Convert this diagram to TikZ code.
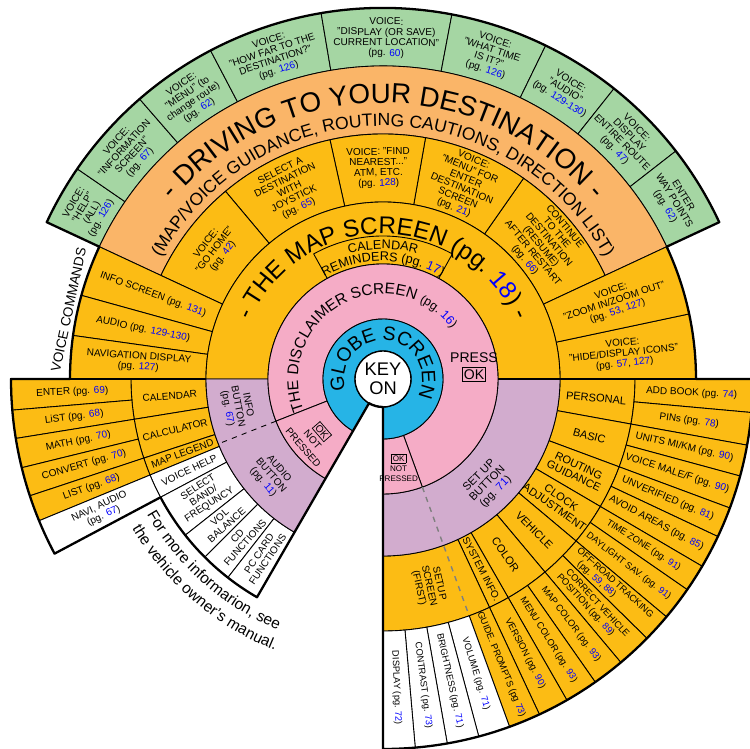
\documentclass[tikz,border=0pt]{standalone}
\usepackage{fontspec}
\setmainfont{Liberation Sans}
\usetikzlibrary{decorations.text}
\definecolor{vgreen}{RGB}{165,214,163}
\definecolor{dorange}{RGB}{250,181,104}
\definecolor{myellow}{RGB}{252,188,20}
\definecolor{dpink}{RGB}{245,172,198}
\definecolor{gblue}{RGB}{38,180,230}
\definecolor{bpurple}{RGB}{210,172,206}
\newcommand\pgn[1]{\textcolor{blue}{#1}}
\newcommand\okb{{\setlength\fboxsep{0.7pt}\fbox{OK}}}
\newcommand\segm[5]{\filldraw[fill=#1,draw=black,line width=.5pt] (#2:#4) arc[start angle=#2,end angle=#3,radius=#4] -- (#3:#5) arc[start angle=#3,end angle=#2,radius=#5] -- cycle;}
\tikzset{
  lab/.style={font=\fontsize{5.7}{5.9}\selectfont,align=center,inner sep=0pt},
  labs/.style={font=\fontsize{5.3}{5.6}\selectfont,align=center,inner sep=0pt},
  labm/.style={font=\fontsize{6.3}{6.6}\selectfont,align=center,inner sep=0pt},
  arctext/.style={decorate,decoration={text along path,text align=center,text={#1}}},
  rim/.style={line width=1.3pt}
}
\begin{document}
\begin{tikzpicture}[x=0.02cm,y=0.02cm,line join=round]
  \useasboundingbox (-383,-370) rectangle (367,379);
  \coordinate (O) at (0,0);
  \foreach \a/\b in {155/145.5,145.5/131,131/117.7,117.7/99.6,99.6/79.3,79.3/64,64/51.5,51.5/37.9,37.9/25}
    {\segm{vgreen}{\a}{\b}{313}{371}}
  \segm{dorange}{25}{155}{245}{313}
  \foreach \a/\b in {25/55,55/80,80/102.5,102.5/130,130/155}
    {\segm{myellow}{\a}{\b}{177}{245}}
  \foreach \a/\b in {155/164.5,164.5/172,172/180,0/12,12/25}
    {\segm{myellow}{\a}{\b}{177}{313}}
  \segm{myellow}{0}{180}{115}{177}
  \segm{myellow}{61}{119}{115}{143}
  \foreach \a/\b in {180/189.2,189.2/198.3,198.3/202.4}
    {\segm{myellow}{\a}{\b}{177}{252}}
  \foreach \a/\b in {202.4/208,208/218.3,218.3/225,225/232,232/240}
    {\segm{white}{\a}{\b}{177}{252}}
  \foreach \a/\b in {180/184.8,184.8/189.2,189.2/193.8,193.8/198.3,198.3/202.4}
    {\segm{myellow}{\a}{\b}{252}{372}}
  \segm{white}{202.4}{208}{252}{372}
  \foreach \a/\b in {0/-10.3,-10.3/-20.4,-20.4/-30.4,-30.4/-40,-40/-50,-50/-60.2,-60.2/-65,-65/-90}
    {\segm{myellow}{\a}{\b}{177}{252}}
  \foreach \a/\b in {0/-5.2,-5.2/-10.3,-10.3/-15.2,-15.2/-20.4,-20.4/-25.2,-25.2/-30.4,-30.4/-34.7,-34.7/-40,-40/-44.5,-44.5/-50,-50/-55,-55/-60.2,-60.2/-65,-65/-70}
    {\segm{myellow}{\a}{\b}{252}{370}}
  \foreach \a/\b in {-70/-75,-75/-80,-80/-85,-85/-90}
    {\segm{white}{\a}{\b}{252}{370}}
  \segm{bpurple}{180}{240}{115}{177}
  \segm{bpurple}{-90}{0}{115}{177}
  \segm{dpink}{-70}{201.5}{60}{115}
  \segm{dpink}{201.5}{240}{60}{115}
  \segm{dpink}{-90}{-70}{60}{115}
  \segm{gblue}{-90}{240}{28}{60}
  \filldraw[fill=white,line width=.8pt] (O) circle[radius=28];
  \draw[dashed,line width=.5pt] (201.5:115) -- (201.5:177);
  \draw[dashed,gray,line width=.8pt] (-70:115) -- (-70:252);
  \path[arctext={|\fontsize{11}{12}\selectfont|GLOBE SCREEN}] (235:39) arc[start angle=235,end angle=-65,radius=39];
  \path[arctext={|\fontsize{8.8}{10}\selectfont|THE DISCLAIMER SCREEN |\fontsize{7}{8}\selectfont|(pg. |\fontsize{7}{8}\selectfont\color{blue}|16|\fontsize{7}{8}\selectfont|)}] (228.75:85) arc[start angle=228.75,end angle=8.75,radius=85];
  \path[arctext={|\fontsize{13.8}{14}\selectfont|- THE MAP SCREEN (pg. |\fontsize{13.8}{14}\selectfont\color{blue}|18|\fontsize{13.8}{14}\selectfont|) -}] (195:145) arc[start angle=195,end angle=-15,radius=145];
  \path[arctext={|\fontsize{15.8}{17}\selectfont|- DRIVING TO YOUR DESTINATION -}] (180:276) arc[start angle=180,end angle=0,radius=276];
  \path[arctext={|\fontsize{10}{11}\selectfont|(MAP/VOICE GUIDANCE, ROUTING CAUTIONS, DIRECTION LIST)}] (180:253) arc[start angle=180,end angle=0,radius=253];
  \path[arctext={|\fontsize{7.2}{8}\selectfont|CALENDAR}] (150:130) arc[start angle=150,end angle=30,radius=130];
  \path[arctext={|\fontsize{7.2}{8}\selectfont|REMINDERS (pg. |\fontsize{7.2}{8}\selectfont\color{blue}|17|\fontsize{7.2}{8}\selectfont|)}] (150:118) arc[start angle=150,end angle=30,radius=118];
  \path[arctext={|\fontsize{8.8}{10}\selectfont|For more informarion, see}] (188.5:272) arc[start angle=188.5,end angle=268.5,radius=272];
  \path[arctext={|\fontsize{8.8}{10}\selectfont|the vehicle owner's manual.}] (189.5:292) arc[start angle=189.5,end angle=269.5,radius=292];
  \node[font=\fontsize{10.4}{10.5}\selectfont,align=center,inner sep=0pt] (key) at (O) {KEY\\ON};
  \node[font=\fontsize{8}{9.5}\selectfont,align=center,inner sep=0pt] (press) at (91,12) {PRESS\\\okb};
  \node[font=\fontsize{5.7}{7}\selectfont,align=center,inner sep=0pt,rotate=-49.25] (oknl) at (220.75:92) {\okb\\NOT\\PRESSED};
  \node[font=\fontsize{4.6}{5.6}\selectfont,align=center,inner sep=0pt] (oknr) at (-80:90) {\okb\\NOT\\PRESSED};
  \node[lab,rotate=60] (vhelp) at (150.25:340) {VOICE:\\"HELP"\\(ALL)\\(pg. \pgn{126})};
  \node[lab,rotate=48] (vinfo) at (138.25:341) {VOICE:\\"INFORMATION\\SCREEN"\\(pg. \pgn{67})};
  \node[lab,rotate=34.4] (vmenu) at (124.35:341) {VOICE:\\"MENU" (to\\change route)\\(pg. \pgn{62})};
  \node[lab,rotate=18.6] (vfar) at (108.65:341) {VOICE:\\"HOW FAR TO THE\\DESTINATION?"\\(pg. \pgn{126})};
  \node[lab,rotate=-0.5] (vdisp) at (89.45:341) {VOICE:\\"DISPLAY (OR SAVE)\\CURRENT LOCATION"\\(pg. \pgn{60})};
  \node[lab,rotate=-18.3] (vtime) at (71.65:341) {VOICE:\\"WHAT TIME\\IS IT?"\\(pg. \pgn{126})};
  \node[lab,rotate=-32.2] (vaudio) at (57.75:341) {VOICE:\\"AUDIO"\\(pg. \pgn{129-130})};
  \node[lab,rotate=-45.3] (vroute) at (44.7:341) {VOICE:\\DISPLAY\\ENTIRE ROUTE\\(pg. \pgn{47})};
  \node[lab,rotate=-58.5] (vway) at (31.45:341) {ENTER\\WAY POINTS\\(pg. \pgn{62})};
  \node[lab,rotate=52.5] (ghome) at (142.5:212) {VOICE:\\"GO HOME"\\(pg. \pgn{42})};
  \node[lab,rotate=26.25] (joy) at (116.25:211) {SELECT A\\DESTINATION\\WITH\\JOYSTICK\\(pg. \pgn{65})};
  \node[lab,rotate=1.25] (near) at (91.25:211) {VOICE: "FIND\\NEAREST..."\\ATM, ETC.\\(pg. \pgn{128})};
  \node[lab,rotate=-22.5] (mdest) at (67.5:211) {VOICE:\\"MENU" FOR\\ENTER\\DESTINATION\\SCREEN\\(pg. \pgn{21})};
  \node[lab,rotate=-50] (resume) at (40:211) {CONTINUE\\TO THE\\DESTINATION\\(RESUME)\\AFTER RESTART\\(pg. \pgn{66})};
  \node[lab,rotate=-20.2] (vscreen) at (159.8:245) {INFO SCREEN (pg. \pgn{131})};
  \node[lab,rotate=-11.7] (vaud) at (168.3:245) {AUDIO (pg. \pgn{129-130})};
  \node[lab,rotate=-4] (vnav) at (176:245) {NAVIGATION DISPLAY\\(pg. \pgn{127})};
  \node[lab,rotate=18.5] (vzoom) at (18.5:244) {VOICE:\\"ZOOM IN/ZOOM OUT"\\(pg. \pgn{53}, \pgn{127})};
  \node[lab,rotate=6] (vicons) at (6:242) {VOICE:\\"HIDE/DISPLAY ICONS"\\(pg. \pgn{57}, \pgn{127})};
  \node[font=\fontsize{7.7}{8}\selectfont,rotate=78,inner sep=0pt] (vcmd) at (167.6:322) {VOICE COMMANDS};
  \node[lab,rotate=-79.25] (infob) at (190.75:148) {INFO\\BUTTON\\(pg. \pgn{67})};
  \node[lab,rotate=-49.25] (audiob) at (220.75:148) {AUDIO\\BUTTON\\(pg. \pgn{11})};
  \node[labm,rotate=45] (setupb) at (-45:148) {SET UP\\BUTTON\\(pg. \pgn{71})};
  \node[lab,rotate=4.6] (cal) at (184.6:214) {CALENDAR};
  \node[lab,rotate=13.75] (calc) at (193.75:214) {CALCULATOR};
  \node[lab,rotate=20.35] (legend) at (200.35:214) {MAP LEGEND};
  \node[lab,rotate=25.2] (vohelp) at (205.2:214) {VOICE HELP};
  \node[lab,rotate=33.15] (band) at (213.15:214) {SELECT\\BAND/\\FREQUNCY};
  \node[lab,rotate=41.65] (vol) at (221.65:214) {VOL\\BALANCE};
  \node[lab,rotate=48.5] (cd) at (228.5:214) {CD\\FUNCTIONS};
  \node[lab,rotate=56] (pccard) at (236:214) {PC CARD\\FUNCTIONS};
  \node[lab,rotate=2.4] (enter) at (182.4:311) {ENTER (pg. \pgn{69})};
  \node[lab,rotate=7] (lista) at (187:311) {LiST (pg. \pgn{68})};
  \node[lab,rotate=11.5] (math) at (191.5:311) {MATH (pg. \pgn{70})};
  \node[lab,rotate=16] (conv) at (196:311) {CONVERT (pg. \pgn{70})};
  \node[lab,rotate=20.35] (listb) at (200.35:311) {LIST (pg. \pgn{68})};
  \node[lab,rotate=25.2] (navi) at (205.2:311) {NAVI, AUDIO\\(pg. \pgn{67})};
  \node[labm,rotate=-5.15] (pers) at (-5.15:214) {PERSONAL};
  \node[labm,rotate=-15.4] (basic) at (-15.4:214) {BASIC};
  \node[labm,rotate=-25.4] (routg) at (-25.4:214) {ROUTING\\GUIDANCE};
  \node[labm,rotate=-35.2] (clock) at (-35.2:214) {CLOCK\\ADJUSTMENT};
  \node[labm,rotate=-45] (vehicle) at (-45:214) {VEHICLE};
  \node[labm,rotate=-55.1] (color) at (-55.1:214) {COLOR};
  \node[lab,rotate=-62.6] (sysinfo) at (-62.6:214) {SYSTEM INFO.};
  \node[lab,rotate=-77.5] (sscreen) at (-77.5:212) {SETUP\\SCREEN\\(FIRST)};
  \node[lab,rotate=-2.6] (addbook) at (-2.6:309) {ADD BOOK (pg. \pgn{74})};
  \node[lab,rotate=-7.75] (pins) at (-7.75:309) {PINs (pg. \pgn{78})};
  \node[lab,rotate=-12.75] (units) at (-12.75:309) {UNITS MI/KM (pg. \pgn{90})};
  \node[lab,rotate=-17.8] (vmale) at (-17.8:309) {VOICE MALE/F (pg. \pgn{90})};
  \node[lab,rotate=-22.8] (unver) at (-22.8:309) {UNVERIFIED (pg. \pgn{81})};
  \node[lab,rotate=-27.8] (avoid) at (-27.8:309) {AVOID AREAS (pg. \pgn{85})};
  \node[labs,rotate=-32.55] (tzone) at (-32.55:309) {TIME ZONE (pg. \pgn{91})};
  \node[labs,rotate=-37.35] (dst) at (-37.35:309) {DAYLIGHT SAV. (pg. \pgn{91})};
  \node[labs,rotate=-42.25,align=left] (offroad) at (-42.25:309) {OFF-ROAD TRACKING\\\quad(pg. \pgn{59}, \pgn{88})};
  \node[labs,rotate=-47.25,align=left] (correct) at (-47.25:309) {\ CORRECT VEHICLE\\POSITION (pg. \pgn{89})};
  \node[labs,rotate=-52.5] (mapcol) at (-52.5:309) {MAP COLOR (pg. \pgn{93})};
  \node[labs,rotate=-57.6] (menucol) at (-57.6:309) {MENU COLOR (pg. \pgn{93})};
  \node[labs,rotate=-62.6] (version) at (-62.6:309) {VERSION (pg. \pgn{90})};
  \node[labs,rotate=-67.5] (guide) at (-67.5:309) {GUIDE. PROMPTS (pg \pgn{73})};
  \node[labs,rotate=-72.5] (volume) at (-72.5:309) {VOLUME (pg. \pgn{71})};
  \node[labs,rotate=-77.5] (bright) at (-77.5:309) {BRIGHTNESS (pg. \pgn{71})};
  \node[labs,rotate=-82.5] (contrast) at (-82.5:309) {CONTRAST (pg. \pgn{73})};
  \node[labs,rotate=-87.5] (display) at (-87.5:309) {DISPLAY (pg. \pgn{72})};
  \draw[rim] (0:313) arc[start angle=0,end angle=25,radius=313] -- (25:371) arc[start angle=25,end angle=155,radius=371] -- (155:313) arc[start angle=155,end angle=180,radius=313] -- (180:372) arc[start angle=180,end angle=208,radius=372] -- (208:252) arc[start angle=208,end angle=240,radius=252] -- (240:28) arc[start angle=240,end angle=270,radius=28] -- (270:370) arc[start angle=270,end angle=360,radius=370] -- cycle;
  \draw[rim] (180:177) -- (180:313) (0:115) -- (0:313);
\end{tikzpicture}
\end{document}
